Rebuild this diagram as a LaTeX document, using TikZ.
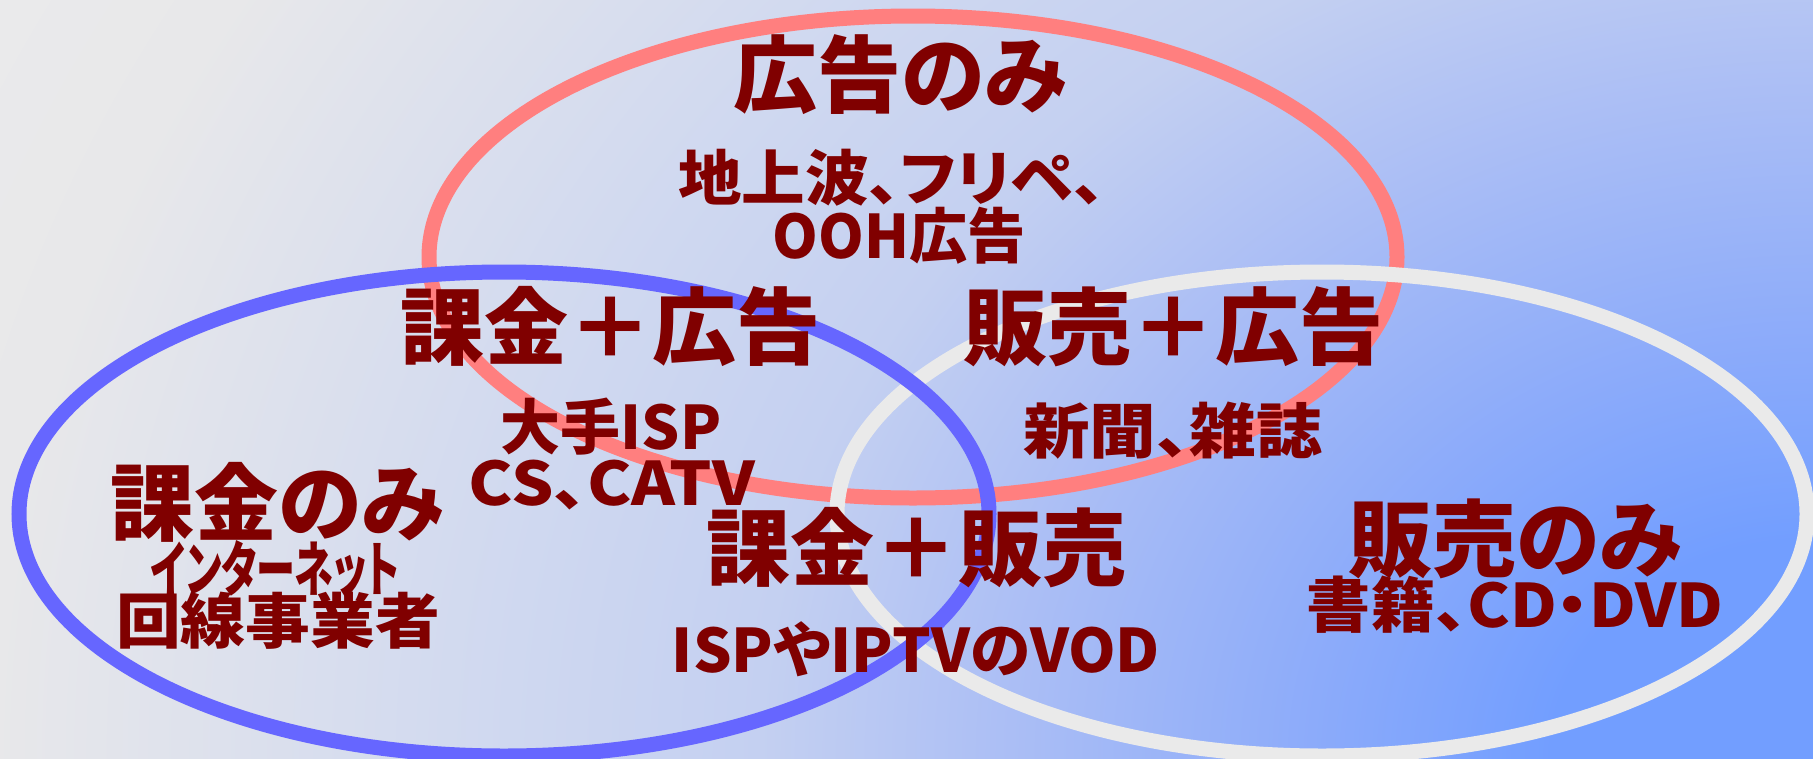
\documentclass[tikz,border=0pt]{standalone}
\usepackage{fontspec}
\newfontfamily\jp[RawFeature=+palt]{Noto Sans CJK JP}
\definecolor{txt}{HTML}{800000}
\definecolor{redring}{HTML}{FF7F7F}
\definecolor{bluering}{HTML}{6666FF}
\definecolor{grayring}{HTML}{EAEAEA}
\definecolor{bgA}{HTML}{729EFF}
\definecolor{bgB}{HTML}{8CABFA}
\definecolor{bgC}{HTML}{ABBEF5}
\definecolor{bgD}{HTML}{C4D0F1}
\definecolor{bgE}{HTML}{CFD8F0}
\definecolor{bgF}{HTML}{E8E8EA}
\definecolor{bgG}{HTML}{EAEAEB}
\pgfdeclareradialshading{bgshade}{\pgfpointorigin}{color(0bp)=(bgA); color(260bp)=(bgA); color(500bp)=(bgB); color(800bp)=(bgC); color(1050bp)=(bgD); color(1300bp)=(bgE); color(1813bp)=(bgF); color(2030bp)=(bgG)}
\begin{document}
\begin{tikzpicture}[x=1pt,y=-1pt,
  ring/.style={line width=15pt},
  lbl/.style={text=txt,inner sep=0pt,text depth=0pt},
  big/.style={lbl,text height=64pt,font=\jp\bfseries\fontsize{84}{90}\selectfont},
  mid/.style={lbl,text height=45.6pt,font=\jp\bfseries\fontsize{60}{64}\selectfont},
  small/.style={lbl,text height=45.6pt,font=\jp\bfseries\fontsize{60}{64}\selectfont}]
\useasboundingbox (0,0) rectangle (1813,758);
\begin{scope}
\clip (0,0) rectangle (1813,758);
\node[inner sep=0pt,outer sep=0pt,yscale=0.8333] (bgfill) at (1813,758) {\pgfuseshading{bgshade}};
\end{scope}
\draw[ring,redring] (913,257) ellipse [x radius=484,y radius=241];
\draw[ring,grayring] (1322,514) ellipse [x radius=485,y radius=242];
\draw[ring,bluering] (504,514) ellipse [x radius=485,y radius=242];
\node[big] (adonly) at (900,74) {広告のみ};
\node[mid,xscale=1.06] (adex1) at (892,178) {地上波、フリペ、};
\node[mid,xscale=0.97] (adex2) at (899,236) {OOH広告};
\node[big] (payad) at (610,326) {課金＋広告};
\node[big] (salead) at (1173,326) {販売＋広告};
\node[mid] (payadex1) at (611,427) {大手ISP};
\node[mid,xscale=1.11] (payadex2) at (612,483) {CS、CATV};
\node[mid,xscale=1.11] (saleadex) at (1173,431) {新聞、雑誌};
\node[big] (payonly) at (277,502) {課金のみ};
\node[small,xscale=0.65] (payex1) at (275,569) {インターネット};
\node[mid,xscale=1.08] (payex2) at (278,621) {回線事業者};
\node[big] (paysale) at (916,547) {課金＋販売};
\node[mid,xscale=1.01] (paysaleex) at (916,650) {ISPやIPTVのVOD};
\node[big] (saleonly) at (1515,538) {販売のみ};
\node[mid,xscale=1.07] (saleex) at (1515,605) {書籍、CD・DVD};
\end{tikzpicture}
\end{document}
